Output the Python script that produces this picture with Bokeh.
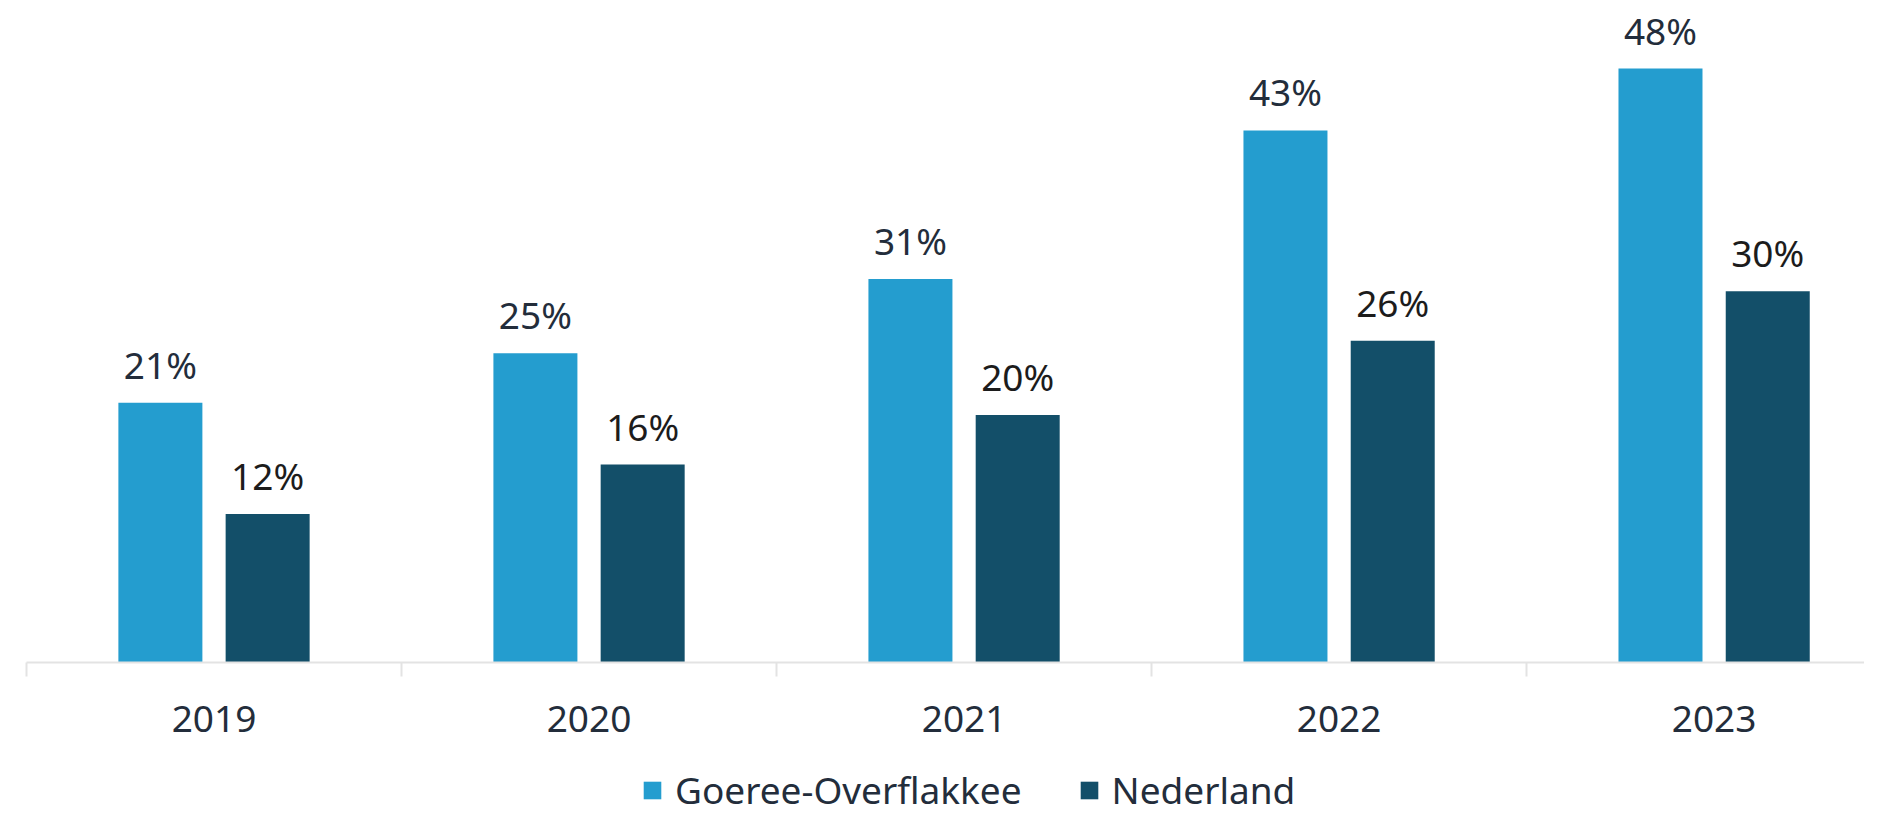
from bokeh.plotting import figure
from bokeh.layouts import column
from bokeh.models import (ColumnDataSource, Range1d, FixedTicker, Legend, LegendItem,
                          LabelSet)
from bokeh.core.properties import value
from bokeh.embed import file_html
from bokeh.resources import INLINE

years = ["2019", "2020", "2021", "2022", "2023"]
goeree = [21, 25, 31, 43, 48]
nederland = [12, 16, 20, 26, 30]
series_names = ["Goeree-Overflakkee", "Nederland"]

LIGHT = "#249dcf"
DARK = "#134f69"
FONT = "Noto Sans"
TXT = "#232d3b"
FS = "37px"

centers = [i + 0.5 for i in range(len(years))]
off = 0.143
bw = 0.224

src_g = ColumnDataSource(dict(x=[c - off for c in centers], top=goeree,
                              lab=[f"{v}%" for v in goeree]))
src_n = ColumnDataSource(dict(x=[c + off for c in centers], top=nederland,
                              lab=[f"{v}%" for v in nederland]))

p = figure(width=1864, height=752, output_backend="svg", toolbar_location=None,
           x_range=Range1d(0, 4.901), y_range=Range1d(0, 53.5),
           min_border_left=26, min_border_right=0, min_border_top=0, min_border_bottom=90)
p.outline_line_color = None
p.grid.grid_line_color = None
p.yaxis.visible = False

r_g = p.vbar(x="x", top="top", width=bw, source=src_g, fill_color=LIGHT, line_color=None)
r_n = p.vbar(x="x", top="top", width=bw, source=src_n, fill_color=DARK, line_color=None)

for src, col in ((src_g, TXT), (src_n, "#1c1c1c")):
    p.add_layout(LabelSet(x="x", y="top", text="lab", source=src, text_align="center",
                          text_baseline="alphabetic", y_offset=24, text_font=value(FONT),
                          text_font_size=FS, text_color=col))

ax = p.xaxis[0]
ax.ticker = FixedTicker(ticks=centers, minor_ticks=list(range(len(years))))
ax.major_label_overrides = {c: y for c, y in zip(centers, years)}
ax.major_tick_line_color = None
ax.major_tick_in = 0
ax.major_tick_out = 0
ax.minor_tick_line_color = "#e3e3e3"
ax.minor_tick_line_width = 2
ax.minor_tick_in = 0
ax.minor_tick_out = 14
ax.axis_line_color = "#e3e3e3"
ax.axis_line_width = 2
ax.major_label_text_font = FONT
ax.major_label_text_font_size = FS
ax.major_label_text_color = TXT
ax.major_label_standoff = 29

# legend strip (separate small figure holding only the legend)
q = figure(width=1864, height=64, output_backend="svg", toolbar_location=None,
           x_range=Range1d(0, 1), y_range=Range1d(0, 1),
           min_border_left=0, min_border_right=0, min_border_top=0, min_border_bottom=0)
q.outline_line_color = None
q.grid.grid_line_color = None
q.axis.visible = False
lg = q.vbar(x=[-10], top=[0], width=0.1, fill_color=LIGHT, line_color=None)
ln = q.vbar(x=[-10], top=[0], width=0.1, fill_color=DARK, line_color=None)

legend = Legend(items=[LegendItem(label=series_names[0], renderers=[lg]),
                       LegendItem(label=series_names[1], renderers=[ln])],
                orientation="horizontal", location=(615, 1),
                glyph_width=22, glyph_height=22, label_standoff=12, spacing=56,
                padding=0, margin=0, border_line_color=None, background_fill_alpha=0,
                label_text_font=FONT, label_text_font_size=FS,
                label_text_color=TXT)
q.add_layout(legend, "center")

layout = column(p, q, spacing=0)
open("out.html", "w").write(file_html(layout, INLINE))
